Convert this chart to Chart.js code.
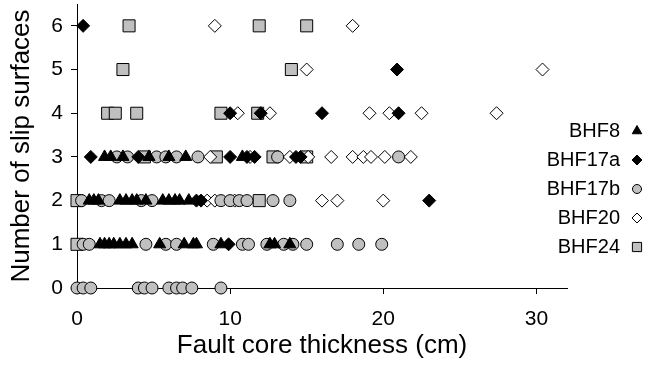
<!DOCTYPE html>
<html>
<head>
<meta charset="utf-8">
<script src="https://cdn.jsdelivr.net/npm/chart.js@4/dist/chart.umd.min.js"></script>
<style>
  html, body { margin: 0; padding: 0; background: #fff; }
  #wrap { position: relative; width: 648px; height: 367px; }
</style>
</head>
<body>
<div id="wrap"><canvas id="slipChart" width="648" height="367"></canvas></div>
<script>
// values
const seriesNames = ['BHF8', 'BHF17a', 'BHF17b', 'BHF20', 'BHF24'];

const bhf8X = [1.8, 2.2, 3.0, 4.7, 6.0, 7.1, 10.8,
    0.8, 1.1, 1.4, 2.8, 3.2, 3.6, 3.9, 4.5, 5.6, 6.0, 6.4, 6.7, 7.3,
    1.5, 1.8, 2.1, 2.4, 2.8, 3.2, 3.6, 5.4, 7.0, 7.6, 7.8, 9.4, 12.6, 12.9, 13.9];
const bhf8Y = [3, 3, 3, 3, 3, 3, 3,
    2, 2, 2, 2, 2, 2, 2, 2, 2, 2, 2, 2, 2,
    1, 1, 1, 1, 1, 1, 1, 1, 1, 1, 1, 1, 1, 1, 1];

const bhf17aX = [0.4, 20.9, 10.0, 12.0, 16.0, 21.0, 0.9, 4.0, 10.0, 11.1, 11.6, 14.3, 14.6, 7.8, 8.1, 23.0, 9.9];
const bhf17aY = [6, 5, 4, 4, 4, 4, 3, 3, 3, 3, 3, 3, 3, 2, 2, 2, 1];

const bhf17bX = [2.6, 3.3, 5.2, 5.8, 6.5, 7.9, 13.1, 21.0,
    0.3, 1.6, 2.1, 4.2, 4.9, 9.4, 10.0, 10.6, 11.1, 12.8, 13.9,
    0.4, 0.8, 4.5, 5.8, 6.5, 8.9, 10.8, 11.2, 12.4, 13.5, 14.1, 15.0, 17.0, 18.4, 19.9,
    0, 0.4, 0.9, 4.0, 4.4, 4.9, 6.0, 6.5, 6.9, 7.5, 9.4];
const bhf17bY = [3, 3, 3, 3, 3, 3, 3, 3,
    2, 2, 2, 2, 2, 2, 2, 2, 2, 2, 2,
    1, 1, 1, 1, 1, 1, 1, 1, 1, 1, 1, 1, 1, 1, 1,
    0, 0, 0, 0, 0, 0, 0, 0, 0, 0, 0];

const bhf20X = [9.0, 18.0, 15.0, 30.4, 10.5, 12.6, 19.1, 20.4, 22.5, 27.4,
    8.7, 11.3, 13.9, 15.1, 16.6, 18.0, 18.7, 19.2, 20.1, 21.8,
    8.5, 9.0, 10.3, 16.0, 17.0, 20.0];
const bhf20Y = [6, 6, 5, 5, 4, 4, 4, 4, 4, 4,
    3, 3, 3, 3, 3, 3, 3, 3, 3, 3,
    2, 2, 2, 2, 2, 2];

const bhf24X = [3.4, 11.9, 15.0, 3.0, 14.0, 2.0, 2.5, 3.9, 9.4, 11.8, 4.4, 9.1, 12.8, 15.0, 0, 11.9, 0];
const bhf24Y = [6, 6, 6, 5, 5, 4, 4, 4, 4, 4, 3, 3, 3, 3, 2, 2, 1];

const xTicks = [0, 10, 20, 30];
const yTicks = [0, 1, 2, 3, 4, 5, 6];

function pairs(xs, ys) {
    return xs.map(function(x, i) { return { x: x, y: ys[i] }; });
}

const family = 'Arial, "Liberation Sans", sans-serif';
const tickFont = { family: family, size: 21 };
const titleFont = { family: family, size: 26 };

function makeSet(label, xs, ys, style, fill, radius, legendRadius) {
    return {
        label: label,
        data: pairs(xs, ys),
        pointStyle: style,
        pointRadius: radius,
        pointHoverRadius: radius,
        backgroundColor: fill,
        borderColor: '#000',
        pointBorderWidth: 1,
        borderWidth: 1,
        legendRadius: legendRadius,
        clip: false
    };
}

// legend sits inside the right edge, text to the left of its marker
const sideLegend = {
    id: 'sideLegend',
    afterDraw: function(chart) {
        const c = chart.ctx;
        c.save();
        c.font = '20px ' + family;
        c.textAlign = 'right';
        c.textBaseline = 'middle';
        chart.data.datasets.forEach(function(ds, i) {
            const y = 131 + i * 29;
            c.fillStyle = '#000';
            c.fillText(ds.label, 620, y);
            c.fillStyle = ds.backgroundColor;
            c.strokeStyle = '#000';
            c.lineWidth = 1;
            Chart.helpers.drawPoint(c, { pointStyle: ds.pointStyle, radius: ds.legendRadius, rotation: 0, borderWidth: 1 }, 637, y);
        });
        c.restore();
    }
};

const ctx = document.getElementById('slipChart');

new Chart(ctx, {
    type: 'scatter',
    data: {
        datasets: [
            makeSet(seriesNames[0], bhf8X, bhf8Y, 'triangle', '#000', 7, 5.5),
            makeSet(seriesNames[1], bhf17aX, bhf17aY, 'rectRot', '#000', 6.5, 5),
            makeSet(seriesNames[2], bhf17bX, bhf17bY, 'circle', '#c0c0c0', 6, 4.5),
            makeSet(seriesNames[3], bhf20X, bhf20Y, 'rectRot', '#fff', 6.5, 5),
            makeSet(seriesNames[4], bhf24X, bhf24Y, 'rect', '#c0c0c0', 8.5, 6.5)
        ]
    },
    plugins: [sideLegend],
    options: {
        responsive: false,
        animation: false,
        layout: { autoPadding: false, padding: { left: 0, right: 81, top: 4, bottom: 0 } },
        plugins: {
            tooltip: { enabled: false },
            legend: { display: false }
        },
        scales: {
            x: {
                type: 'linear',
                min: 0,
                max: 32,
                afterBuildTicks: function(scale) {
                    scale.ticks = xTicks.map(function(v) { return { value: v }; });
                },
                afterFit: function(scale) { scale.height = 79; },
                grid: { drawOnChartArea: false, drawTicks: true, tickLength: 6, color: '#000' },
                border: { color: '#000', width: 1 },
                ticks: { color: '#000', font: tickFont, padding: 13, maxRotation: 0 },
                title: { display: true, text: 'Fault core thickness (cm)', color: '#000', font: titleFont, padding: { top: 0, bottom: 6 } }
            },
            y: {
                type: 'linear',
                min: 0,
                max: 6.5,
                afterBuildTicks: function(scale) {
                    scale.ticks = yTicks.map(function(v) { return { value: v }; });
                },
                afterFit: function(scale) {
                    scale.width = 77;
                    scale.paddingTop = 0;
                    scale.paddingBottom = 0;
                },
                grid: { drawOnChartArea: false, drawTicks: true, tickLength: 6, color: '#000' },
                border: { color: '#000', width: 1 },
                ticks: { color: '#000', font: tickFont, padding: 8 },
                title: { display: true, text: 'Number of slip surfaces', color: '#000', font: titleFont, padding: { top: 6, bottom: 0 } }
            }
        }
    }
});
</script>
</body>
</html>
